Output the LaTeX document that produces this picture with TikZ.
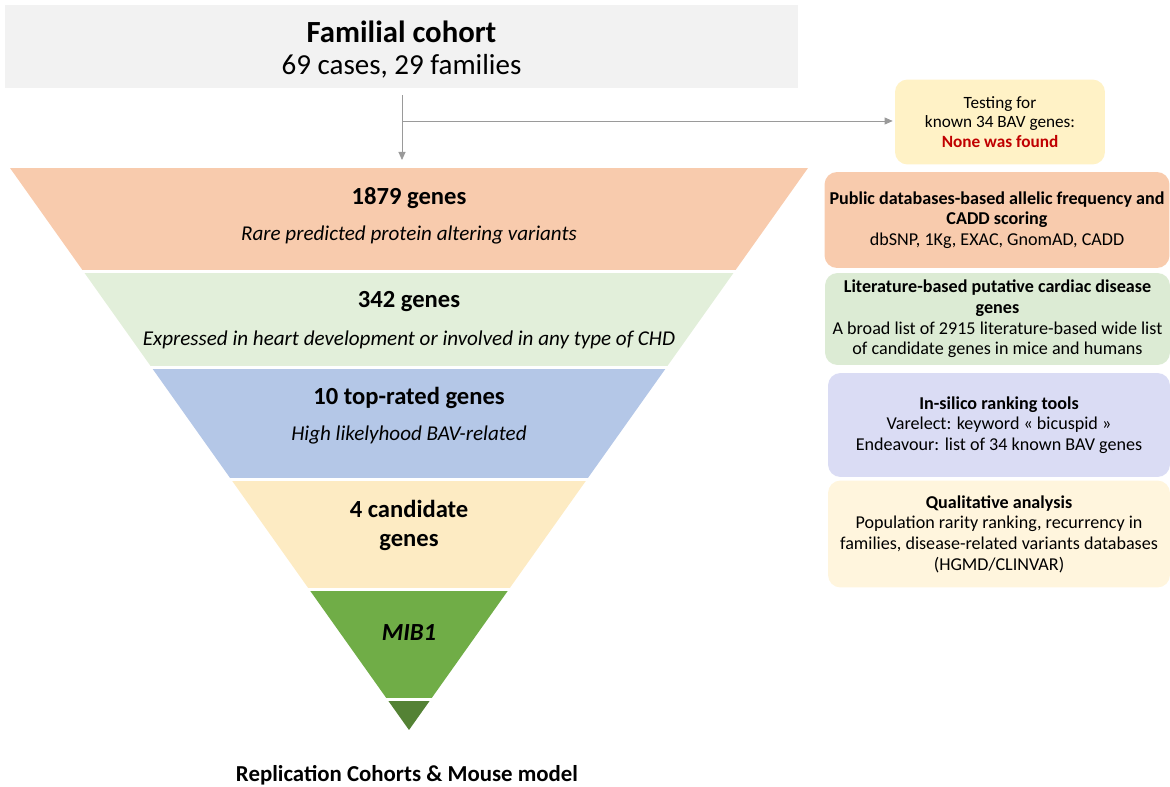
\documentclass[tikz,border=0pt]{standalone}
\usepackage{fontspec}
\setmainfont{Carlito}
\usetikzlibrary{arrows.meta, positioning}

\definecolor{cohortgrey}{HTML}{F2F2F2}
\definecolor{bandorange}{HTML}{F8CBAD}
\definecolor{bandgreen}{HTML}{E2EFDA}
\definecolor{bandblue}{HTML}{B4C7E7}
\definecolor{bandyellow}{HTML}{FDEBC3}
\definecolor{bandmib}{HTML}{70AD47}
\definecolor{banddark}{HTML}{548235}
\definecolor{boxyellow}{HTML}{FFF2C6}
\definecolor{boxorange}{HTML}{F8CBAD}
\definecolor{boxgreen}{HTML}{DCEBD4}
\definecolor{boxblue}{HTML}{DADCF4}
\definecolor{boxcream}{HTML}{FFF5DD}
\definecolor{arrowgrey}{HTML}{9A9A9A}
\definecolor{foundred}{HTML}{C00000}

\begin{document}
\begin{tikzpicture}
	[x=0.02cm, y=-0.02cm,%
	cohort/.style ={rectangle,	fill=cohortgrey,	inner sep=0pt,	minimum width=15.86cm,	minimum height=1.66cm},%
	title/.style  ={font=\bfseries\fontsize{14}{17}\selectfont,	align=center},%
	subtitle/.style={font=\itshape\fontsize{12}{14}\selectfont},%
	sidebox/.style={rectangle,	rounded corners=2.5mm,	inner sep=0pt,	minimum width=6.9cm,	align=center,	font=\fontsize{10.3}{11.8}\selectfont},%
	link/.style   ={draw=arrowgrey,	line width=0.5pt,	-{Triangle[length=1.6mm, width=1.4mm]}},%
	]

	\useasboundingbox (0,0) rectangle (1170,787);

	% cohort and test box
	\node (cohort) at (401.5,46.5) [cohort] {};
	\node (cohortname) at (401.5,32) [font=\bfseries\fontsize{17.5}{20}\selectfont] {Familial cohort};
	\node (cohortsize) at (401.5,66) [font=\fontsize{16.5}{19}\selectfont] {69 cases, 29 families};
	\node (testing) at (1000,122) [sidebox, fill=boxyellow, minimum width=4.2cm, minimum height=1.7cm, font=\fontsize{9.8}{11.2}\selectfont]
		{Testing for\\known 34 BAV genes:\\{\bfseries\color{foundred}None was found}};

	% funnel bands
	\begin{scope}
		\clip (10,168) -- (808,168) -- (409,730) -- cycle;
		\foreach \ya/\yb/\col in {168/270/bandorange, 273/366/bandgreen, 369/478/bandblue, 481/588/bandyellow, 591/698/bandmib, 701/730/banddark}
			\fill [\col] (0,\ya) rectangle (820,\yb);
	\end{scope}

	% band texts
	\node (g1879) at (409,198) [title] {1879 genes};
	\node (d1879) at (409,235) [subtitle] {Rare predicted protein altering variants};
	\node (g342)  at (409,302) [title] {342 genes};
	\node (d342)  at (409,340) [subtitle] {Expressed in heart development or involved in any type of CHD};
	\node (gtop)  at (409,398) [title] {10 top-rated genes};
	\node (dtop)  at (409,435) [subtitle] {High likelyhood BAV-related};
	\node (gcand) at (409,525) [title, font=\bfseries\fontsize{14}{16.5}\selectfont] {4 candidate\\genes};
	\node (gmib)  at (409,633) [title, font=\bfseries\itshape\fontsize{14}{17}\selectfont] {MIB1};
	\node (replic) at (407,775) [title, font=\bfseries\fontsize{13}{16}\selectfont] {Replication Cohorts \& Mouse model};

	% filter boxes
	\node (public) at (997,220) [sidebox, fill=boxorange, minimum height=1.92cm]
		{\textbf{Public databases-based allelic frequency and}\\\textbf{CADD scoring}\\dbSNP, 1Kg, EXAC, GnomAD, CADD};
	\node (litt) at (997.5,319) [sidebox, fill=boxgreen, minimum height=1.84cm]
		{\textbf{Literature-based putative cardiac disease}\\\textbf{genes}\\A broad list of 2915 literature-based wide list\\of candidate genes in mice and humans};
	\node (silico) at (999,425) [sidebox, fill=boxblue, minimum width=6.84cm, minimum height=2.08cm]
		{\textbf{In-silico ranking tools}\\Varelect: keyword « bicuspid »\\Endeavour: list of 34 known BAV genes};
	\node (quali) at (999,534) [sidebox, fill=boxcream, minimum width=6.84cm, minimum height=2.14cm]
		{\textbf{Qualitative analysis}\\Population rarity ranking, recurrency in\\families, disease-related variants databases\\(HGMD/CLINVAR)};

	% connectors
	\coordinate (funneltop) at (402,160);
	\coordinate (split) at (402,121);
	\draw [link, shorten <=1.4mm] (cohort.south -| funneltop) -- (funneltop);
	\draw [link, shorten >=0.4mm] (split) -- (split -| testing.west);

\end{tikzpicture}
\end{document}
